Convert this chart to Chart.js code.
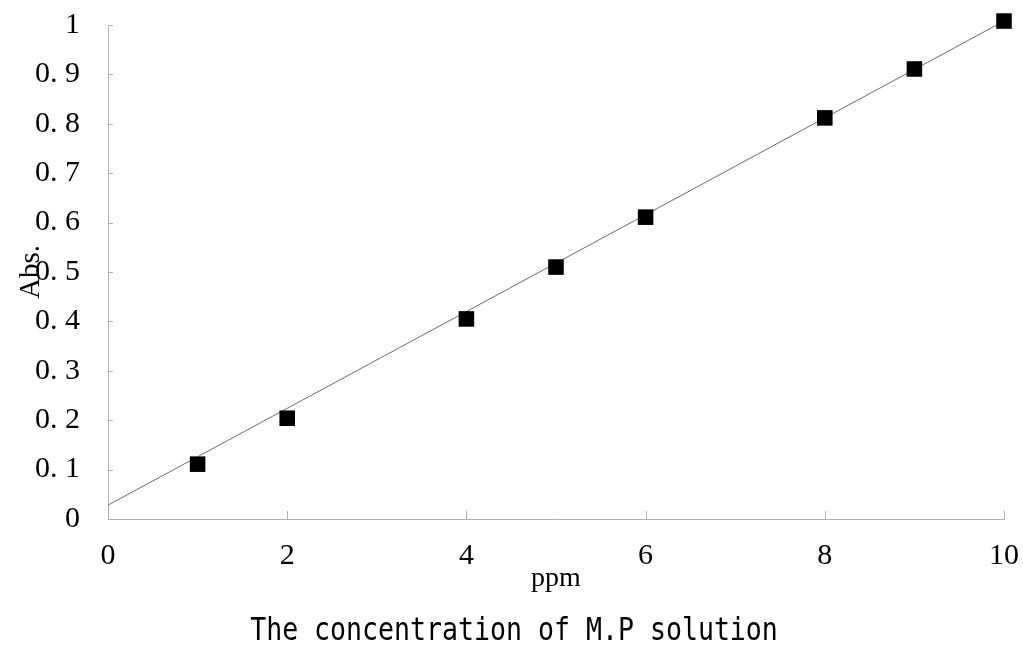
<!DOCTYPE html>
<html>
<head>
<meta charset="utf-8">
<script src="https://cdn.jsdelivr.net/npm/chart.js@4/dist/chart.umd.min.js"></script>
<style>
	body { margin: 0; background: #fff; }
	#wrap { width: 1023px; height: 646px; position: relative; }
</style>
</head>
<body>
<div id="wrap"><canvas id="calib"></canvas></div>
<script>
/*************************
DATA
*************************/

const concValues = [1, 2, 4, 5, 6, 8, 9, 10];//ppm
const absValues = [0.111, 0.204, 0.405, 0.51, 0.611, 0.812, 0.911, 1.008];

//the fitted line at its two ends
const trendX = [0, 10];
const trendY = [0.028, 1.008];

const xTicks = [0, 2, 4, 6, 8, 10];
const yTicks = [0, 0.1, 0.2, 0.3, 0.4, 0.5, 0.6, 0.7, 0.8, 0.9, 1];

const xTitle = 'ppm';
const yTitle = 'Abs.';
const bottomTitle = 'The concentration of M.P solution';

/*************************
STYLE
*************************/

const serif = "'Liberation Serif', 'Times New Roman', serif";
const mono = "'DejaVu Sans Mono', monospace";
const axisGray = '#b0b0b0';

//small inward tick marks, the Abs. label over the tick labels, and the caption
const extras = {
	id: 'extras',
	afterDraw(chart){
		const ctx = chart.ctx;
		const xs = chart.scales.x;
		const ys = chart.scales.y;
		ctx.save();
		ctx.strokeStyle = axisGray;
		ctx.lineWidth = 1;
		yTicks.forEach(v => {
			const py = Math.round(ys.getPixelForValue(v)) + 0.5;
			ctx.beginPath();
			ctx.moveTo(xs.left, py);
			ctx.lineTo(xs.left + 5, py);
			ctx.stroke();
		});
		xTicks.forEach(v => {
			const px = Math.round(xs.getPixelForValue(v)) + 0.5;
			ctx.beginPath();
			ctx.moveTo(px, ys.bottom);
			ctx.lineTo(px, ys.bottom - 8);
			ctx.stroke();
		});
		ctx.fillStyle = '#000';
		ctx.textAlign = 'center';
		ctx.textBaseline = 'middle';

		//caption, a tall narrow mono face
		ctx.save();
		ctx.translate(514, 632);
		ctx.scale(0.83, 1);
		ctx.font = '32px ' + mono;
		ctx.fillText(bottomTitle, 0, 0);
		ctx.restore();

		ctx.translate(31, 272);
		ctx.rotate(-Math.PI / 2);
		ctx.font = '29px ' + serif;
		ctx.fillText(yTitle, 0, 0);
		ctx.restore();
	}
};

/*************************
CHART
*************************/

const points = concValues.map((x, i) => ({x: x, y: absValues[i]}));
const trend = trendX.map((x, i) => ({x: x, y: trendY[i]}));

new Chart(document.querySelector('#calib').getContext('2d'), {
	type: 'scatter',
	data: {
		datasets: [{
			label: 'Abs.',
			data: points,
			pointStyle: 'rect',
			pointRadius: 11,
			pointHoverRadius: 11,
			backgroundColor: '#000',
			borderColor: '#000',
			borderWidth: 0,
			clip: false,
		}, {
			type: 'line',
			label: 'fit',
			data: trend,
			borderColor: '#6a6a6a',
			borderWidth: 1,
			pointRadius: 0,
			fill: false,
			tension: 0,
			clip: false,
		}]
	},
	options: {
		responsive: true,
		maintainAspectRatio: false,
		animation: false,
		layout: {padding: {top: 25, right: 19, left: 0, bottom: 47}},
		plugins: {
			legend: {display: false},
			tooltip: {enabled: false},
		},
		scales: {
			x: {
				type: 'linear',
				min: 0,
				max: 10,
				afterFit(scale){
					scale.height = 80;
					scale.paddingLeft = 0;
					scale.paddingRight = 0;
				},
				afterBuildTicks(scale){ scale.ticks = xTicks.map(v => ({value: v})); },
				grid: {display: false, drawTicks: false},
				border: {display: true, color: axisGray, width: 1, dash: [10, 4]},
				ticks: {
					color: '#000',
					font: {family: serif, size: 30},
					padding: 19,
					maxRotation: 0,
				},
				title: {
					display: true,
					text: xTitle,
					color: '#000',
					font: {family: serif, size: 28},
					padding: {top: 0, bottom: 4},
				},
			},
			y: {
				min: 0,
				max: 1,
				afterFit(scale){
					scale.width = 108;
					scale.paddingTop = 0;
					scale.paddingBottom = 0;
				},
				afterBuildTicks(scale){ scale.ticks = yTicks.map(v => ({value: v})); },
				grid: {display: false, drawTicks: false},
				border: {display: true, color: axisGray, width: 1},
				ticks: {
					color: '#000',
					font: {family: serif, size: 30},
					padding: 28,
					callback(v){
						const t = Math.round(v * 10);
						if(t === 0) return '0';
						if(t === 10) return '1';
						return '0. ' + t;
					},
				},
			},
		},
	},
	plugins: [extras],
});
</script>
</body>
</html>
